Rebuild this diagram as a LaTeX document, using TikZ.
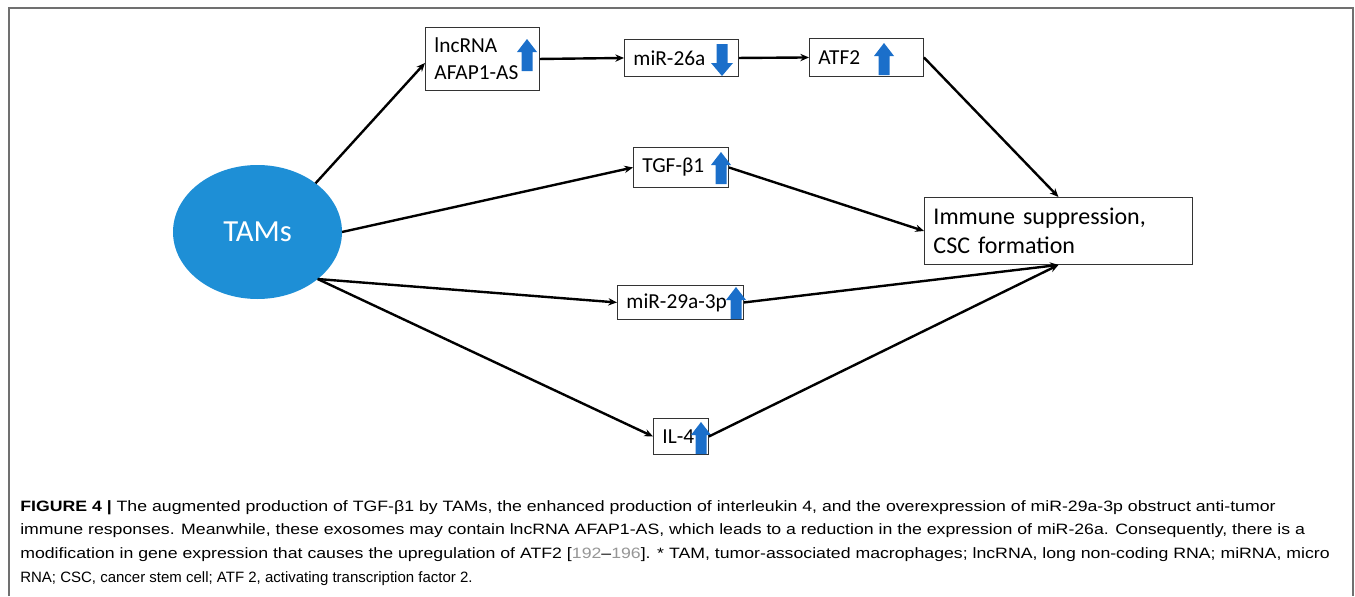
\documentclass[tikz,border=0pt]{standalone}
\usepackage{fontspec}
\setmainfont{Carlito}
\newfontfamily\capfont[FakeStretch=1.18]{Liberation Sans}
\newfontfamily\capendfont{Liberation Sans}
\usetikzlibrary{arrows.meta,shapes.geometric}
\definecolor{tamblue}{RGB}{30,143,214}
\definecolor{markblue}{RGB}{27,111,202}
\definecolor{framegray}{RGB}{112,112,112}
\definecolor{refgray}{RGB}{150,150,150}

\begin{document}
\begin{tikzpicture}[x=0.75pt,y=-0.75pt,
  box/.style={draw=black!80,line width=0.7pt,anchor=north west,inner xsep=6.75pt,inner ysep=0pt,align=left,font=\fontsize{16}{20}\selectfont},
  link/.style={line width=1.8pt,-{Stealth[length=6.5pt,width=5.5pt]}},
  up mark/.pic={\fill[markblue] (-5.5,16) -- (-5.5,-3) -- (-10,-3) -- (0,-16) -- (10,-3) -- (5.5,-3) -- (5.5,16) -- cycle;},
  down mark/.pic={\fill[markblue] (-5.5,-16) -- (-5.5,3) -- (-11,3) -- (0,16) -- (11,3) -- (5.5,3) -- (5.5,-16) -- cycle;}]
\useasboundingbox (0,0) rectangle (1355,596);
\draw[framegray,line width=1.2pt] (9,596) -- (9,8) -- (1353,8) -- (1353,596);
% diagram
\node[ellipse,fill=tamblue,inner sep=0pt,outer sep=0pt,minimum width=126.75pt,minimum height=100.5pt,text=white,font=\fontsize{23}{23}\selectfont] (tams) at (257.5,232) {TAMs};
\node[box,text width=72pt,minimum height=47.25pt] (lnc) at (425,27) {lncRNA\\AFAP1-AS};
\node[box,text width=72pt,minimum height=27.75pt] (mir26) at (624,39) {miR-26a};
\node[box,text width=72pt,minimum height=28.5pt] (atf) at (809,38) {ATF2};
\node[box,text width=57.75pt,minimum height=30pt] (tgf) at (633,147) {TGF-β1};
\node[box,text width=187.5pt,minimum height=50.25pt,font=\fontsize{18}{22}\selectfont] (immune) at (924,197) {Immune suppression,\\CSC formation};
\node[box,text width=81pt,minimum height=25.5pt] (mir29) at (617,285) {miR-29a-3p};
\node[box,text width=27.75pt,minimum height=27pt] (il4) at (653,418) {IL-4};
\pic at (527,55) {up mark};
\pic at (722,60) {down mark};
\pic at (884,59) {up mark};
\pic at (721,168) {up mark};
\pic at (736,303) {up mark};
\pic at (701,438) {up mark};
\draw[link] (tams.40) -- ([yshift=-3pt]lnc.west);
\draw[link] (lnc.east) -- (mir26.west);
\draw[link] (mir26.east) -- (atf.west);
\draw[link] (atf.east) -- (immune.north);
\draw[link] (tams.east) -- (tgf.west);
\draw[link] (tgf.east) -- (immune.west);
\draw[link] (tams.-38) -- (mir29.west);
\draw[link] (mir29.east) -- (immune.south);
\draw[link] (tams.-38) -- (il4.west);
\draw[link] (il4.east) -- (immune.south);
% caption
\node[anchor=north west,inner sep=0pt,align=left,font=\capfont\fontsize{11.25}{17.8}\selectfont] (caption) at (20,500)
  {\textbf{FIGURE 4 |} The augmented production of TGF-β1 by TAMs, the enhanced production of interleukin 4, and the overexpression of miR-29a-3p obstruct anti-tumor\\
   immune responses. Meanwhile, these exosomes may contain lncRNA AFAP1-AS, which leads to a reduction in the expression of miR-26a. Consequently, there is a\\
   modification in gene expression that causes the upregulation of ATF2 [{\color{refgray}192}–{\color{refgray}196}]. * TAM, tumor-associated macrophages; lncRNA, long non-coding RNA; miRNA, micro\\
   {\capendfont RNA; CSC, cancer stem cell; ATF 2, activating transcription factor 2.}};
\end{tikzpicture}
\end{document}
